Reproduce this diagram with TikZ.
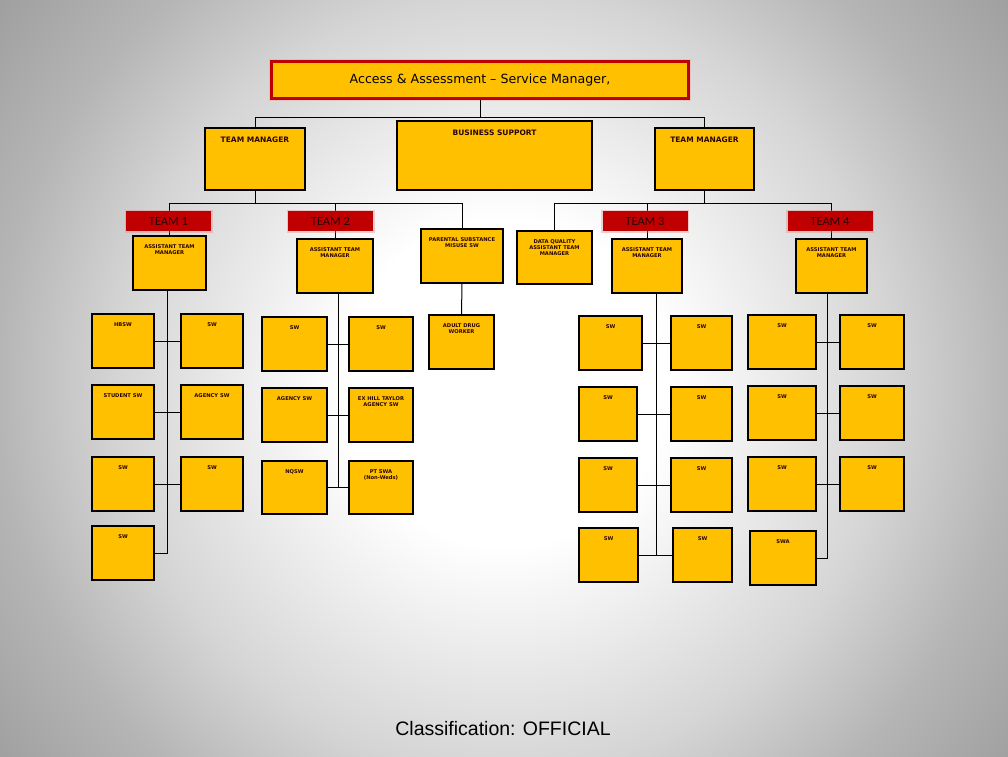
\documentclass[tikz,border=0pt]{standalone}
\usepackage{fontspec}
\setmainfont{DejaVu Sans}
\newfontfamily\carl{Carlito}
\newfontfamily\libsans{Liberation Sans}
\definecolor{oyel}{HTML}{FFC000}
\definecolor{ored}{HTML}{C00000}
\definecolor{otxt}{HTML}{2A0505}
\pgfdeclareradialshading{bgshade}{\pgfpoint{0bp}{0bp}}{color(0bp)=(white); color(8bp)=(white); color(19bp)=(gray!33); color(25bp)=(gray!58); color(31.5bp)=(gray!76); color(50bp)=(gray!76)}
\tikzset{
  obox/.style={draw=black, fill=oyel, line width=1.1pt, inner sep=0pt},
  otxt/.style={anchor=north, yshift=-8.5pt, inner sep=0pt, align=center, text=otxt,
               font=\fontsize{5.2}{6.2}\selectfont\bfseries},
  bigtxt/.style={anchor=north, yshift=-9.5pt, inner sep=0pt, align=center, text=otxt,
               font=\fontsize{7.5}{9}\selectfont\bfseries},
  team/.style={fill=ored, minimum width=85pt, minimum height=20pt, inner sep=0pt,
               text=otxt, font=\carl\fontsize{12.5}{14}\selectfont,
               preaction={draw=ored!50, line width=3pt, opacity=0.35}},
  conn/.style={draw=black, line width=1pt}
}
\newcommand\ob[7][otxt]{\node[obox, minimum width={(#5-#3)*1pt}, minimum height={(#6-#4)*1pt},
  label={[#1]north:{#7}}] (#2) at ({(#3+#5)/2},{(#4+#6)/2}) {};}
\begin{document}
\begin{tikzpicture}[x=1pt,y=-1pt]
\begin{scope}
\clip (0,0) rectangle (1008,756);
\shade[shading=bgshade] (-4,-126) rectangle (1014,892);
\end{scope}
\useasboundingbox (0,0) rectangle (1008,756);

% top
\node[fill=oyel, draw=ored, line width=2.5pt, minimum width=417pt, minimum height=37pt, inner sep=0pt,
  preaction={draw=ored!40, line width=5pt, opacity=0.35},
  font=\fontsize{12.6}{14}\selectfont, text=black] (top) at (480,80) {Access \& Assessment -- Service Manager,};

\ob[bigtxt]{tmL}{205}{128}{305}{190}{TEAM MANAGER}
\ob[bigtxt]{bs}{397}{121}{592}{190}{BUSINESS SUPPORT}
\ob[bigtxt]{tmR}{655}{128}{754}{190}{TEAM MANAGER}

\ob{atm1}{133}{236}{206}{290}{ASSISTANT TEAM\\MANAGER}
\ob{atm2}{297}{239}{373}{293}{ASSISTANT TEAM\\MANAGER}
\ob{par}{421}{229}{503}{283}{PARENTAL SUBSTANCE\\MISUSE SW}
\ob{adw}{429}{315}{494}{369}{ADULT DRUG\\WORKER}
\ob{dq}{517}{231}{592}{284}{DATA QUALITY\\ASSISTANT TEAM\\MANAGER}
\ob{atm3}{612}{239}{682}{293}{ASSISTANT TEAM\\MANAGER}
\ob{atm4}{796}{239}{867}{293}{ASSISTANT TEAM\\MANAGER}

% team 1
\ob{t1a1}{92}{314}{154}{368}{HBSW}
\ob{t1b1}{181}{314}{243}{368}{SW}
\ob{t1a2}{92}{385}{154}{439}{STUDENT SW}
\ob{t1b2}{181}{385}{243}{439}{AGENCY SW}
\ob{t1a3}{92}{457}{154}{511}{SW}
\ob{t1b3}{181}{457}{243}{511}{SW}
\ob{t1a4}{92}{526}{154}{580}{SW}
% team 2
\ob{t2a1}{262}{317}{327}{371}{SW}
\ob{t2b1}{349}{317}{413}{371}{SW}
\ob{t2a2}{262}{388}{327}{442}{AGENCY SW}
\ob{t2b2}{349}{388}{413}{442}{EX HILL TAYLOR\\AGENCY SW}
\ob{t2a3}{262}{461}{327}{514}{NQSW}
\ob{t2b3}{349}{461}{413}{514}{PT SWA\\(Non-Weds)}
% team 3
\ob{t3a1}{579}{316}{642}{370}{SW}
\ob{t3b1}{671}{316}{732}{370}{SW}
\ob{t3a2}{579}{387}{637}{441}{SW}
\ob{t3b2}{671}{387}{732}{441}{SW}
\ob{t3a3}{579}{458}{637}{512}{SW}
\ob{t3b3}{671}{458}{732}{512}{SW}
\ob{t3a4}{579}{528}{638}{582}{SW}
\ob{t3b4}{673}{528}{732}{582}{SW}
% team 4
\ob{t4a1}{748}{315}{816}{369}{SW}
\ob{t4b1}{840}{315}{904}{369}{SW}
\ob{t4a2}{748}{386}{816}{440}{SW}
\ob{t4b2}{840}{386}{904}{440}{SW}
\ob{t4a3}{748}{457}{816}{511}{SW}
\ob{t4b3}{840}{457}{904}{511}{SW}
\ob{swa}{750}{531}{816}{585}{SWA}

% connectors
\coordinate (bus1) at (0,117);
\coordinate (bus2) at (0,203);
\coordinate (sp1) at (167,0);
\coordinate (sp2) at (338,0);
\coordinate (sp3) at (656,0);
\coordinate (sp4) at (827,0);
\draw[conn] (top.south) -- (top.south |- bus1);
\draw[conn] (tmL.north) -- (tmL.north |- bus1) -- (tmR.north |- bus1) -- (tmR.north);
\draw[conn] (tmL.south) -- (tmL.south |- bus2);
\draw[conn] (atm1.north) -- (atm1.north |- bus2) -- (par.north |- bus2) -- (par.north);
\draw[conn] (atm2.north) -- (atm2.north |- bus2);
\draw[conn] (tmR.south) -- (tmR.south |- bus2);
\draw[conn] (dq.north) -- (dq.north |- bus2) -- (atm4.north |- bus2) -- (atm4.north);
\draw[conn] (atm3.north) -- (atm3.north |- bus2);
\draw[conn] (par.south) -- (adw.north);
% team 1
\draw[conn] (sp1 |- atm1.south) -- (sp1 |- t1a4.east) -- (t1a4.east);
\draw[conn] (t1a1.east) -- (t1b1.west);
\draw[conn] (t1a2.east) -- (t1b2.west);
\draw[conn] (t1a3.east) -- (t1b3.west);
% team 2
\draw[conn] (sp2 |- atm2.south) -- (sp2 |- t2a3.east);
\draw[conn] (t2a1.east) -- (t2b1.west);
\draw[conn] (t2a2.east) -- (t2b2.west);
\draw[conn] (t2a3.east) -- (t2b3.west);
% team 3
\draw[conn] (sp3 |- atm3.south) -- (sp3 |- t3a4.east);
\draw[conn] (t3a1.east) -- (t3b1.west);
\draw[conn] (t3a2.east) -- (t3b2.west);
\draw[conn] (t3a3.east) -- (t3b3.west);
\draw[conn] (t3a4.east) -- (t3b4.west);
% team 4
\draw[conn] (sp4 |- atm4.south) -- (sp4 |- swa.east) -- (swa.east);
\draw[conn] (t4a1.east) -- (t4b1.west);
\draw[conn] (t4a2.east) -- (t4b2.west);
\draw[conn] (t4a3.east) -- (t4b3.west);

% team labels
\node[team] (team1) at (168.5,221) {TEAM 1};
\node[team] (team2) at (330.5,221) {TEAM 2};
\node[team] (team3) at (645,221) {TEAM 3};
\node[team] (team4) at (830,221) {TEAM 4};

\node[font=\libsans\fontsize{19.5}{22}\selectfont, text=black, inner sep=0pt] (cls) at (503,729) {Classification: OFFICIAL};
\end{tikzpicture}
\end{document}
